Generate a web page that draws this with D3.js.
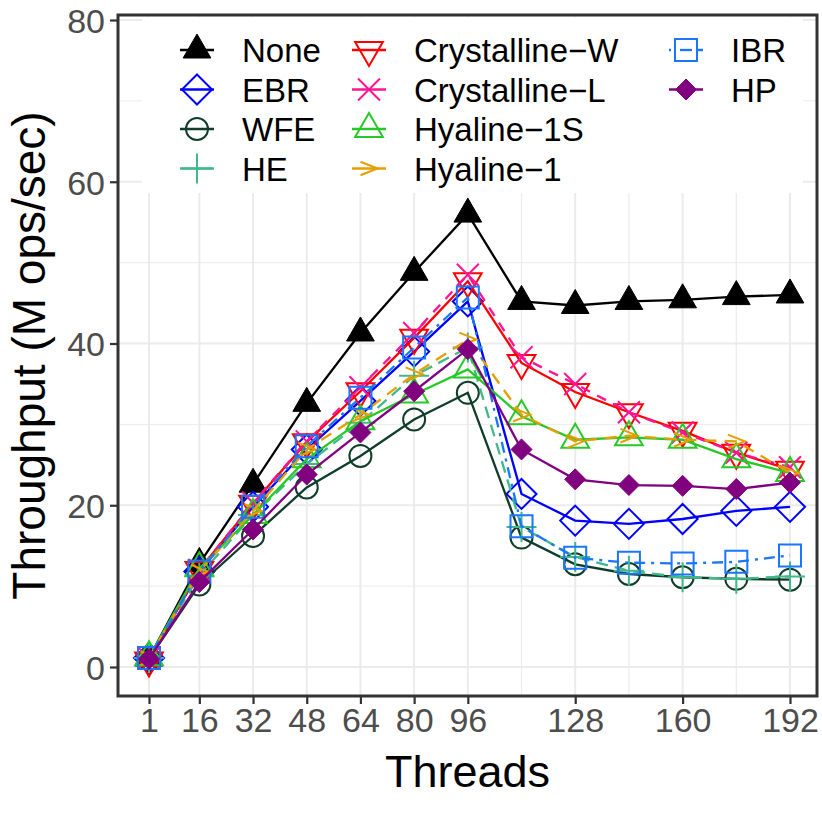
<!doctype html>
<html lang="en">
<head>
    <meta http-equiv="content-type" content="text/html; charset=utf-8" />
    <title>Throughput vs threads</title>
    <style>
        body { margin: 0; background: #fff; }
        svg { display: block; font-family: "Liberation Sans", Arial, sans-serif; }
    </style>
</head>
<body>
    <svg id="chart"></svg>

    <script src="https://cdn.jsdelivr.net/npm/d3@7/dist/d3.min.js"></script>

    <script>
        // data
        const threads = [1, 16, 32, 48, 64, 80, 96, 112, 128, 144, 160, 176, 192];
        const xTickLabels = [1, 16, 32, 48, 64, 80, 96, 128, 160, 192];
        const yTicks = [0, 20, 40, 60, 80];

        const seriesNames = ["None", "EBR", "WFE", "HE", "Crystalline−W", "Crystalline−L",
                             "Hyaline−1S", "Hyaline−1", "IBR", "HP"];

        const noneVals   = [1.1, 12.8, 22.6, 32.6, 41.3, 48.8, 56.0, 45.2, 44.7, 45.2, 45.4, 45.8, 46.0];
        const ebrVals    = [1.1, 11.8, 19.8, 26.9, 32.9, 39.0, 45.2, 21.4, 18.1, 17.7, 18.3, 19.3, 19.8];
        const wfeVals    = [1.0, 10.2, 16.2, 22.2, 26.1, 30.6, 33.9, 16.0, 12.7, 11.5, 11.1, 10.9, 10.8];
        const heVals     = [1.1, 11.3, 18.8, 25.1, 30.2, 36.0, 39.5, 17.3, 13.6, 11.9, 11.1, 10.9, 11.2];
        const crystWVals = [0.8, 12.0, 20.2, 27.8, 34.1, 40.7, 47.7, 37.6, 34.0, 31.5, 29.2, 26.5, 24.4];
        const crystLVals = [1.1, 12.0, 20.3, 27.9, 34.6, 41.3, 48.5, 38.3, 35.0, 31.5, 29.0, 26.5, 24.7];
        const hyal1SVals = [1.2, 12.2, 18.8, 25.7, 30.4, 33.7, 36.8, 31.0, 28.1, 28.4, 28.1, 25.7, 24.0];
        const hyal1Vals  = [1.1, 11.8, 19.3, 26.9, 31.2, 36.2, 40.5, 31.2, 27.9, 28.6, 28.1, 27.9, 24.0];
        const ibrVals    = [1.1, 11.8, 19.8, 27.3, 33.3, 39.5, 45.7, 17.4, 13.5, 12.9, 12.8, 13.0, 13.8];
        const hpVals     = [1.0, 10.5, 17.0, 23.8, 29.0, 34.1, 39.3, 26.9, 23.2, 22.5, 22.4, 22.0, 22.8];

        const seriesValues = [noneVals, ebrVals, wfeVals, heVals, crystWVals, crystLVals,
                              hyal1SVals, hyal1Vals, ibrVals, hpVals];

        // look of each series: colour, marker, line type
        const styles = [
            {color: "#000000", shape: "triangle",     size: 16,   fill: true,  dash: null},
            {color: "#0000FF", shape: "diamond",      size: 15,   fill: false, dash: null},
            {color: "#0F3D2A", shape: "circle",       size: 11,   fill: false, dash: null},
            {color: "#40B88C", shape: "plus",         size: 15,   fill: false, dash: "12,7"},
            {color: "#FF0000", shape: "triangleDown", size: 16,   fill: false, dash: null},
            {color: "#FF1493", shape: "cross",        size: 11,   fill: false, dash: "10,8"},
            {color: "#28C828", shape: "triangle",     size: 16,   fill: false, dash: null},
            {color: "#E69F00", shape: "chevron",      size: 8.5,  fill: false, dash: "12,8"},
            {color: "#1A75FF", shape: "square",       size: 11,   fill: false, dash: "3,6,11,6"},
            {color: "#800080", shape: "diamond",      size: 10.5, fill: true,  dash: null}
        ];

        const shapes = {
            triangle: s => `M0,${-s}L${s*0.866},${s*0.5}L${-s*0.866},${s*0.5}Z`,
            triangleDown: s => `M0,${s}L${s*0.866},${-s*0.5}L${-s*0.866},${-s*0.5}Z`,
            diamond: s => `M0,${-s}L${s},0L0,${s}L${-s},0Z`,
            circle: s => `M${-s},0A${s},${s} 0 1,0 ${s},0A${s},${s} 0 1,0 ${-s},0Z`,
            square: s => `M${-s},${-s}H${s}V${s}H${-s}Z`,
            plus: s => `M${-s},0H${s}M0,${-s}V${s}`,
            cross: s => `M${-s},${-s}L${s},${s}M${-s},${s}L${s},${-s}`,
            chevron: s => `M${-s},${-s*0.8}L${s},0L${-s},${s*0.8}`
        };

        renderChart("#chart");

        function renderChart(container) {
            const width = 822, height = 822;
            const panel = {left: 118, right: 817, top: 15, bottom: 696};

            const svg = d3.select(container)
                .attr("width", width)
                .attr("height", height)
                .attr("viewBox", [0, 0, width, height]);

            const x = d3.scaleLinear().domain([1, 192]).range([149, 790]);
            const y = d3.scaleLinear().domain([0, 80]).range([667, 20]);

            // gridlines
            const grid = svg.append("g").attr("stroke", "#EBEBEB").attr("fill", "none");
            const minorY = [10, 30, 50, 70];
            grid.selectAll("line.minor-y")
                .data(minorY)
                .join("line")
                .attr("class", "minor-y")
                .attr("x1", panel.left).attr("x2", panel.right)
                .attr("y1", d => y(d)).attr("y2", d => y(d))
                .attr("stroke-width", 1);
            grid.selectAll("line.major-y")
                .data(yTicks)
                .join("line")
                .attr("class", "major-y")
                .attr("x1", panel.left).attr("x2", panel.right)
                .attr("y1", d => y(d)).attr("y2", d => y(d))
                .attr("stroke-width", 2);
            grid.selectAll("line.major-x")
                .data(threads)
                .join("line")
                .attr("class", "major-x")
                .attr("y1", panel.top).attr("y2", panel.bottom)
                .attr("x1", d => x(d)).attr("x2", d => x(d))
                .attr("stroke-width", d => xTickLabels.includes(d) ? 2 : 1.2);

            // lines
            const line = d3.line()
                .x((d, i) => x(threads[i]))
                .y(d => y(d));

            const series = seriesNames.map((name, i) => ({name, values: seriesValues[i], style: styles[i]}));

            const groups = svg.append("g")
                .selectAll("g")
                .data(series)
                .join("g");

            groups.append("path")
                .attr("fill", "none")
                .attr("stroke", d => d.style.color)
                .attr("stroke-width", 2.3)
                .attr("stroke-dasharray", d => d.style.dash)
                .attr("d", d => line(d.values));

            groups.selectAll("path.marker")
                .data(d => d.values.map((v, i) => ({v, t: threads[i], style: d.style})))
                .join("path")
                .attr("class", "marker")
                .attr("transform", d => `translate(${x(d.t)},${y(d.v)})`)
                .attr("d", d => shapes[d.style.shape](d.style.size))
                .attr("fill", d => d.style.fill ? d.style.color : "none")
                .attr("stroke", d => d.style.color)
                .attr("stroke-width", d => d.style.fill ? 1 : 2)
                .attr("stroke-linejoin", "miter");

            // legend
            svg.append("rect")
                .attr("x", 142).attr("y", panel.top + 2)
                .attr("width", 661).attr("height", 176)
                .attr("fill", "#fff");

            const colSymbolX = [197, 369, 686];
            const rowY0 = 50, rowStep = 39.5;

            const legend = svg.append("g")
                .selectAll("g")
                .data(series)
                .join("g")
                .attr("transform", (d, i) => `translate(${colSymbolX[Math.floor(i / 4)]},${rowY0 + (i % 4) * rowStep})`);

            legend.append("line")
                .attr("x1", -17).attr("x2", 17)
                .attr("stroke", d => d.style.color)
                .attr("stroke-width", 2.3)
                .attr("stroke-dasharray", d => d.style.dash && d.style.shape === "square" ? "2,5,10,5" : null);

            legend.append("path")
                .attr("d", d => shapes[d.style.shape](d.style.size))
                .attr("fill", d => d.style.fill ? d.style.color : (d.style.shape === "square" ? "#fff" : "none"))
                .attr("stroke", d => d.style.color)
                .attr("stroke-width", d => d.style.fill ? 1 : 2);

            legend.filter(d => d.style.shape === "square")
                .append("line")
                .attr("x1", -6).attr("x2", 6)
                .attr("stroke", d => d.style.color)
                .attr("stroke-width", 2.3);

            legend.append("text")
                .attr("x", 45)
                .attr("y", 12)
                .attr("font-size", 33)
                .attr("fill", "#000")
                .text(d => d.name);

            // panel border
            svg.append("rect")
                .attr("x", panel.left).attr("y", panel.top)
                .attr("width", panel.right - panel.left)
                .attr("height", panel.bottom - panel.top)
                .attr("fill", "none")
                .attr("stroke", "#333333")
                .attr("stroke-width", 3);

            // axes
            const xAxis = svg.append("g")
                .attr("transform", `translate(0,${panel.bottom})`)
                .call(d3.axisBottom(x).tickValues(xTickLabels).tickSize(8).tickPadding(4).tickFormat(d3.format("d")));
            xAxis.select(".domain").remove();
            xAxis.selectAll(".tick line").attr("stroke", "#333333").attr("stroke-width", 2.2);
            xAxis.selectAll(".tick text")
                .attr("font-size", 34)
                .attr("font-family", "Liberation Sans, Arial, sans-serif")
                .attr("fill", "#4D4D4D")
                .attr("dy", "0.71em");

            const yAxis = svg.append("g")
                .attr("transform", `translate(${panel.left},0)`)
                .call(d3.axisLeft(y).tickValues(yTicks).tickSize(8).tickPadding(5));
            yAxis.select(".domain").remove();
            yAxis.selectAll(".tick line").attr("stroke", "#333333").attr("stroke-width", 2.2);
            yAxis.selectAll(".tick text")
                .attr("font-size", 34)
                .attr("font-family", "Liberation Sans, Arial, sans-serif")
                .attr("fill", "#4D4D4D")
                .attr("dy", "0.36em");

            // axis titles
            svg.append("text")
                .attr("x", (panel.left + panel.right) / 2)
                .attr("y", 787)
                .attr("text-anchor", "middle")
                .attr("font-size", 45)
                .attr("fill", "#000")
                .text("Threads");

            svg.append("text")
                .attr("transform", `translate(45,${(panel.top + panel.bottom) / 2}) rotate(-90)`)
                .attr("text-anchor", "middle")
                .attr("font-size", 46)
                .attr("fill", "#000")
                .text("Throughput (M ops/sec)");
        }
    </script>
</body>
</html>
